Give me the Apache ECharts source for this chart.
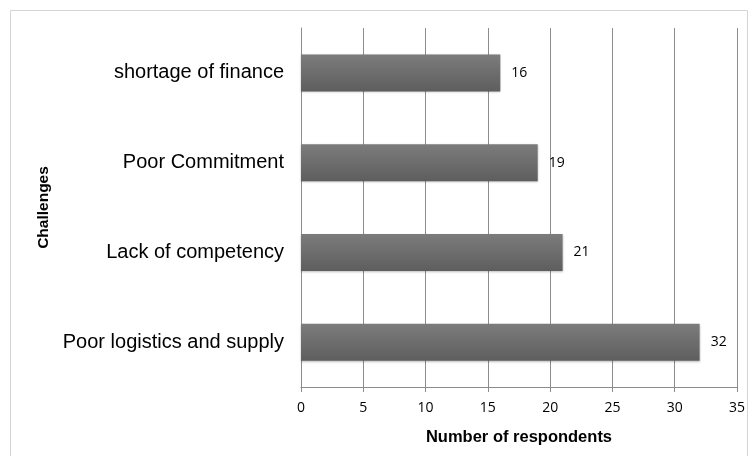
<!DOCTYPE html>
<html>
<head>
<meta charset="utf-8">
<script src="https://cdn.jsdelivr.net/npm/echarts@6/dist/echarts.min.js"></script>
<style>
  html, body { margin: 0; padding: 0; background: #fff; }
  #chart { width: 753px; height: 456px; }
</style>
</head>
<body>
<div id="chart"></div>
<script>
// categories bottom -> top
var categories = ['Poor logistics and supply', 'Lack of competency', 'Poor Commitment', 'shortage of finance'];
var respondents = [32, 21, 19, 16];
var xTicks = [0, 35, 5];  // min, max, step

var chart = echarts.init(document.getElementById('chart'), null, { renderer: 'canvas' });

var numFont = 'Open Sans, Liberation Sans, sans-serif';

var option = {
  animation: false,
  backgroundColor: '#fff',
  textStyle: { fontFamily: 'Liberation Sans, Arial, sans-serif' },
  graphic: [{
    type: 'rect',
    shape: { x: 10.5, y: 10.5, width: 737, height: 460 },
    style: { fill: 'none', stroke: '#d4d4d4', lineWidth: 1 },
    silent: true
  }],
  grid: { left: 301, right: 16, top: 28, bottom: 69, containLabel: false },
  xAxis: {
    type: 'value',
    min: xTicks[0], max: xTicks[1], interval: xTicks[2],
    name: 'Number of respondents',
    nameLocation: 'middle',
    nameGap: 42,
    nameTextStyle: { fontSize: 16.5, fontWeight: 'bold', color: '#000' },
    axisLine: { show: true, lineStyle: { color: '#8c8c8c', width: 1 } },
    axisTick: { show: true, length: 5, lineStyle: { color: '#8c8c8c' } },
    axisLabel: { fontSize: 14, color: '#000', margin: 14, fontFamily: numFont },
    splitLine: { show: true, lineStyle: { color: '#8c8c8c', width: 1 } }
  },
  yAxis: {
    type: 'category',
    data: categories,
    name: 'Challenges',
    nameLocation: 'middle',
    nameGap: 248,
    nameRotate: 90,
    nameTextStyle: { fontSize: 15.5, fontWeight: 'bold', color: '#000' },
    axisLine: { show: true, lineStyle: { color: '#8c8c8c' } },
    axisTick: { show: false },
    axisLabel: { fontSize: 20, color: '#000', margin: 17 },
    splitLine: { show: false }
  },
  series: [{
    type: 'bar',
    data: respondents,
    barWidth: 37,
    itemStyle: {
      color: new echarts.graphic.LinearGradient(0, 0, 0, 1, [
        { offset: 0, color: '#7c7c7c' },
        { offset: 1, color: '#5e5e5e' }
      ]),
      shadowColor: 'rgba(0,0,0,0.25)',
      shadowBlur: 2,
      shadowOffsetY: 1
    },
    label: {
      show: true,
      position: 'right',
      distance: 11,
      fontSize: 14,
      fontFamily: numFont,
      color: '#000'
    }
  }]
};

chart.setOption(option);
</script>
</body>
</html>
